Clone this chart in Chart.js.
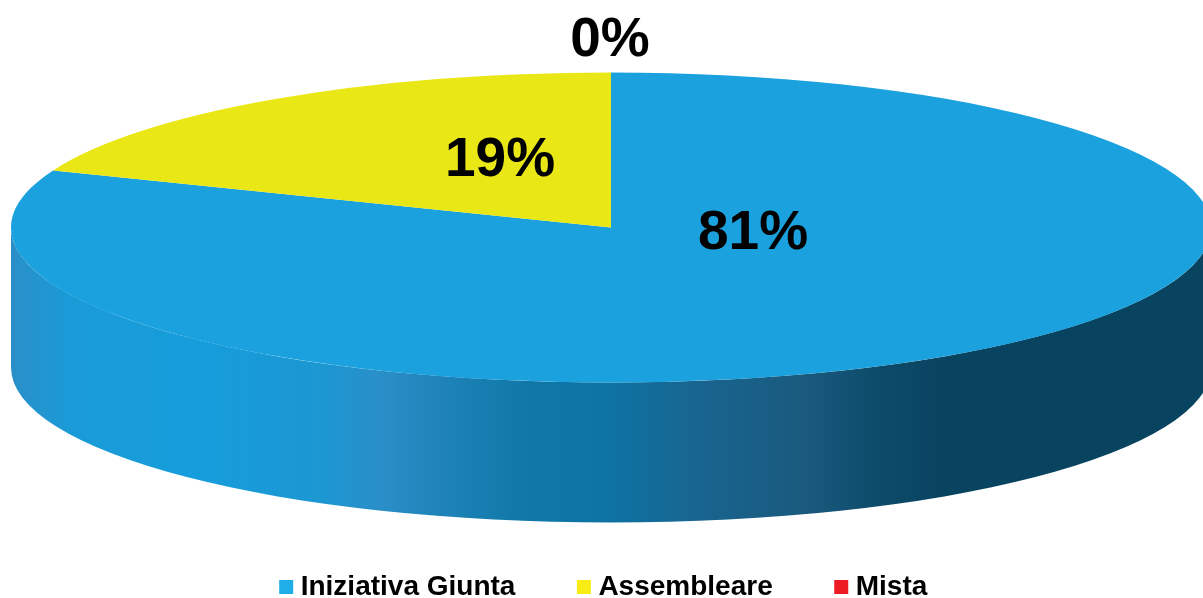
<!DOCTYPE html>
<html>
<head>
<meta charset="utf-8">
<style>
  html, body { margin: 0; padding: 0; background: #fff; overflow: hidden; }
  #box { position: relative; width: 1203px; height: 598px; }
</style>
<script src="https://cdn.jsdelivr.net/npm/chart.js@4/dist/chart.umd.min.js"></script>
</head>
<body>
<div id="box"><canvas id="chart"></canvas></div>
<script>
const categories = ['Iniziativa Giunta', 'Assembleare', 'Mista'];
const values = [81, 19, 0];
const sliceColors = ['#1AA1DE', '#EAE716', '#ED1C24'];
const legendColors = ['#1FAEE8', '#F7EC13', '#ED1C24'];
const percentLabels = ['81%', '19%', '0%'];

// fake 3D: the pie is squashed around its centre, the wall hangs below it
const radius = 600;
const squash = 155 / 600;
const depth = 140;
// label offsets from the pie centre
const labelOffsets = [[142, 6], [-111, -67], [-1, -187]];
const wallStops = [
   [0, '#2A8FC8'], [0.05, '#1A9BD8'], [0.16, '#169DDB'], [0.26, '#1C97D2'],
   [0.31, '#2A8EC8'], [0.34, '#2386BD'], [0.43, '#0F78A8'], [0.49, '#0C75A6'],
   [0.57, '#186590'], [0.66, '#1A5A7E'], [0.725, '#0D4B6A'], [0.78, '#08435F'], [1, '#084460']
];

const pie3d = {
   id: 'pie3d',
   afterLayout(chart) {
      // legend sits low on the page, tight to the bottom edge
      // (bottom has to move too, the legend clips to its own box)
      const legend = chart.legend;
      legend.top = 573 - legend.options.labels.padding;
      legend.bottom = chart.height;
      legend.left -= 4.5;
      legend.right -= 4.5;
   },
   beforeDatasetsDraw(chart) {
      const ctx = chart.ctx;
      const arc = chart.getDatasetMeta(0).data[0];
      const r = arc.outerRadius;
      const ry = r * squash;
      const grad = ctx.createLinearGradient(arc.x - r, 0, arc.x + r, 0);
      wallStops.forEach(s => grad.addColorStop(s[0], s[1]));

      ctx.save();
      ctx.fillStyle = grad;
      ctx.beginPath();
      ctx.ellipse(arc.x, arc.y + depth, r, ry, 0, 0, Math.PI);
      ctx.ellipse(arc.x, arc.y, r, ry, 0, Math.PI, 0, true);
      ctx.closePath();
      ctx.fill();
      ctx.restore();

      ctx.save();
      ctx.translate(arc.x, arc.y);
      ctx.scale(1, squash);
      ctx.translate(-arc.x, -arc.y);
   },
   afterDatasetsDraw(chart) {
      const ctx = chart.ctx;
      ctx.restore();

      const arc = chart.getDatasetMeta(0).data[0];
      ctx.save();
      ctx.fillStyle = '#000';
      ctx.font = 'bold 55px "Liberation Sans", Arial, sans-serif';
      ctx.textAlign = 'center';
      ctx.textBaseline = 'middle';
      percentLabels.forEach((text, i) => {
         ctx.fillText(text, arc.x + labelOffsets[i][0], arc.y + labelOffsets[i][1]);
      });
      ctx.restore();
   }
};

new Chart(document.getElementById('chart'), {
   type: 'pie',
   data: {
      labels: categories,
      datasets: [{
         data: values,
         backgroundColor: sliceColors,
         borderWidth: 0,
         radius: radius
      }]
   },
   plugins: [pie3d],
   options: {
      responsive: true,
      maintainAspectRatio: false,
      animation: false,
      layout: { padding: { left: 19, top: 21, bottom: 58 } },
      plugins: {
         tooltip: { enabled: false },
         legend: {
            position: 'bottom',
            labels: {
               usePointStyle: true,
               pointStyle: 'rect',
               boxWidth: 1,
               boxHeight: 14,
               padding: 68,
               color: '#000',
               font: { family: '"Liberation Sans", Arial, sans-serif', size: 28, weight: 'bold' },
               generateLabels(chart) {
                  return categories.map((name, i) => ({
                     text: name,
                     fillStyle: legendColors[i],
                     strokeStyle: legendColors[i],
                     lineWidth: 0,
                     pointStyle: 'rect',
                     index: i
                  }));
               }
            }
         }
      }
   }
});
</script>
</body>
</html>
